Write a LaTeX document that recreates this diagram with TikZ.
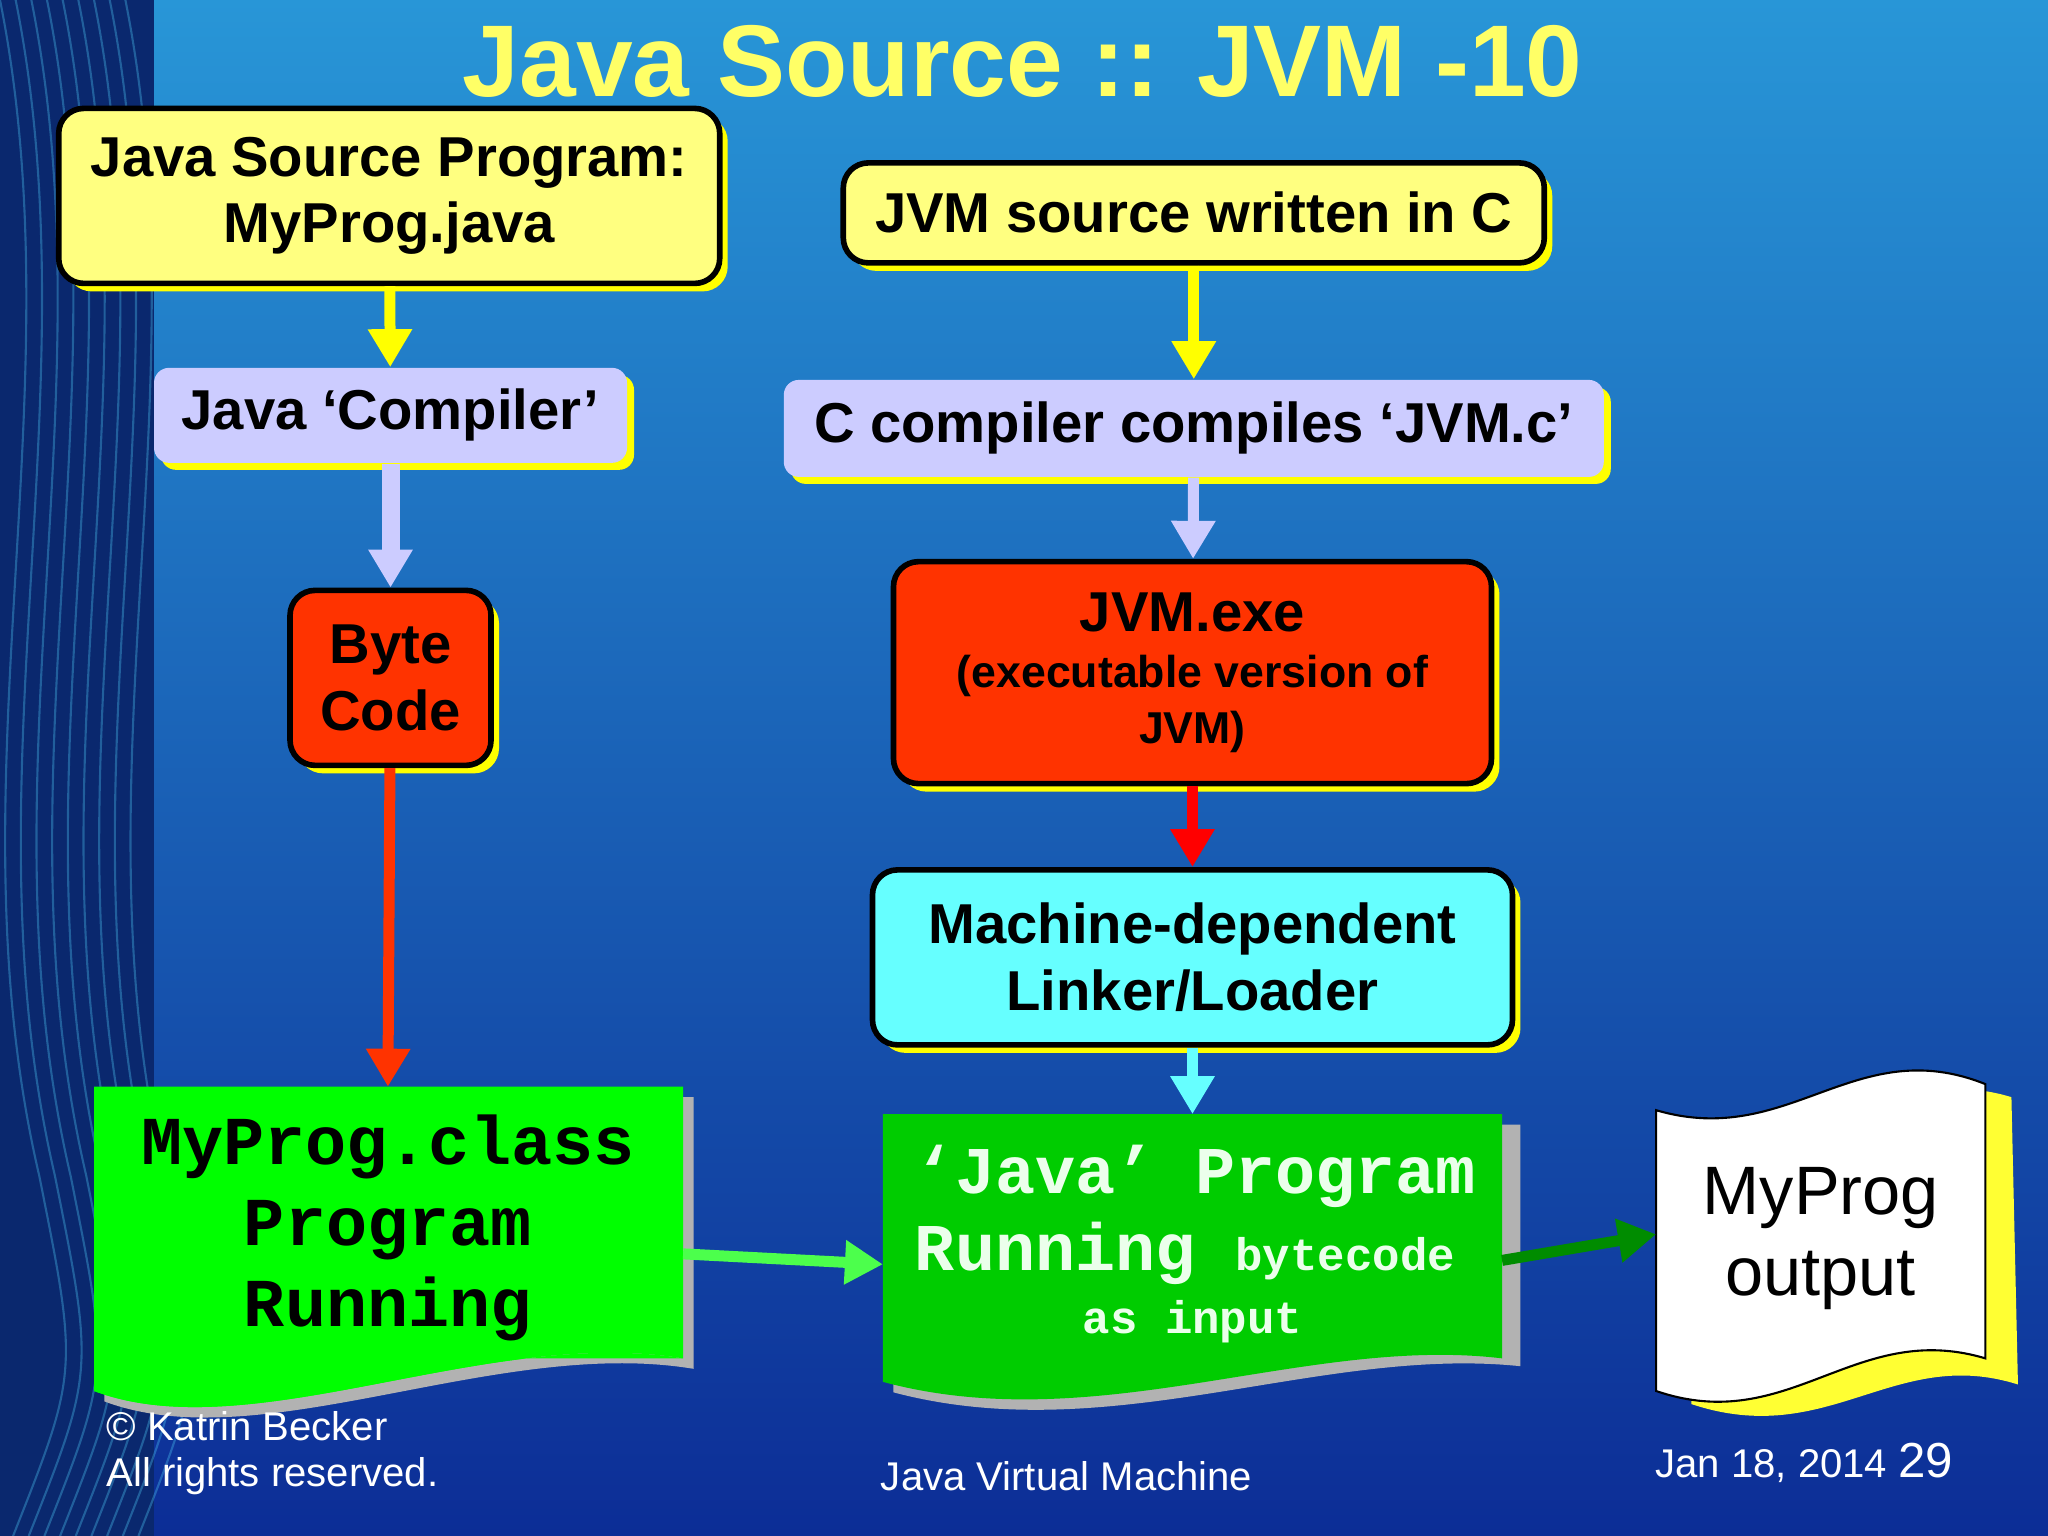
\documentclass[tikz,border=0pt]{standalone}
\usepackage{fontspec}
\setmainfont{Liberation Sans}
\newfontfamily\monofam{Liberation Mono}
\usetikzlibrary{arrows.meta,shadows}
\definecolor{bgtop}{RGB}{40,150,215}
\definecolor{bgbot}{RGB}{12,45,150}
\definecolor{strip}{RGB}{10,40,110}
\definecolor{boxyellow}{RGB}{255,255,128}
\definecolor{boxlav}{RGB}{204,204,255}
\definecolor{boxred}{RGB}{255,51,0}
\definecolor{boxcyan}{RGB}{102,255,255}
\definecolor{docgreen}{RGB}{0,255,0}
\definecolor{docgreen2}{RGB}{0,204,0}
\definecolor{shyellow}{RGB}{255,255,0}
\definecolor{titleyellow}{RGB}{255,255,102}
\begin{document}
\begin{tikzpicture}[x=0.013061cm,y=-0.013061cm,
  box/.style={rectangle, rounded corners=0.25cm, draw=black, line width=1.6pt, align=center,
    font=\bfseries\fontsize{16}{19}\selectfont, inner sep=0pt,
    general shadow={fill=shyellow, shadow xshift=0.08cm, shadow yshift=-0.08cm}},
  flat/.style={rectangle, rounded corners=0.15cm, fill=boxlav, align=center,
    font=\bfseries\fontsize{16}{19}\selectfont, inner sep=0pt,
    general shadow={fill=shyellow, shadow xshift=0.07cm, shadow yshift=-0.07cm}},
  flow/.style={line width=0.11cm, -{Triangle[length=0.38cm,width=0.42cm]}},
  foot/.style={text=white, font=\fontsize{11.4}{14}\selectfont, anchor=west}
]
\useasboundingbox (0,0) rectangle (1568,1176);
% background
\shade[top color=bgtop, bottom color=bgbot] (0,0) rectangle (1568,1176);
\fill[strip] (0,0) rectangle (118,1176);
\foreach \s in {0,12,...,96}{
  \draw[cyan!70!white, opacity=0.35, line width=0.6pt]
    (\s,0) .. controls (\s+60,300) and (\s-40,600) .. (\s+30,900) .. controls (\s+60,1050) .. (\s+10,1176);
}
\node[text=titleyellow, font=\bfseries\fontsize{29}{32}\selectfont] (title) at (783,47) {Java Source :: JVM -10};

% boxes
\node[box, fill=boxyellow, minimum width=6.61cm, minimum height=1.75cm] (src) at (298,150) {Java Source Program:\\MyProg.java};
\node[box, fill=boxyellow, minimum width=7.01cm, minimum height=1.0cm] (jvmsrc) at (914,163) {JVM source written in C};
\node[flat, minimum width=4.73cm, minimum height=0.95cm] (comp) at (299,318) {Java ‘Compiler’};
\node[flat, minimum width=8.2cm, minimum height=0.97cm] (ccomp) at (914,328) {C compiler compiles ‘JVM.c’};
\node[box, fill=boxred, minimum width=2.01cm, minimum height=1.75cm] (byte) at (299,519) {Byte\\Code};
\node[box, fill=boxred, minimum width=5.98cm, minimum height=2.22cm, font=\bfseries\fontsize{16}{16}\selectfont] (jvmexe) at (913,515)
  {JVM.exe\\{\fontsize{12.7}{15}\selectfont (executable version of}\\{\fontsize{12.7}{15}\selectfont JVM)}};
\node[box, fill=boxcyan, minimum width=6.4cm, minimum height=1.75cm] (linker) at (913,733) {Machine-dependent\\Linker/Loader};

% document shapes
\fill[gray!60] (80,840) -- (531,840) -- (531,1048) .. controls (380,1023) and (200,1118) .. (80,1073) -- cycle;
\fill[docgreen] (72,832) -- (523,832) -- (523,1040) .. controls (372,1015) and (192,1110) .. (72,1065) -- cycle;
\node[font=\monofam\bfseries\fontsize{19.5}{23}\selectfont, align=center] (cls) at (297,940) {MyProg.class\\Program\\Running};
\coordinate (clsout) at (523,960);

\fill[gray!60] (684,861) -- (1164,861) -- (1164,1046) .. controls (1010,1030) and (850,1110) .. (684,1066) -- cycle;
\fill[docgreen2] (676,853) -- (1150,853) -- (1150,1040) .. controls (1000,1022) and (840,1102) .. (676,1058) -- cycle;
\node[text=green!8!white, font=\monofam\bfseries\fontsize{19}{22}\selectfont, align=left, anchor=north west, inner sep=0pt] (jp) at (700,876)
  {‘Java’ Program\\Running {\fontsize{13}{16}\selectfont bytecode}};
\node[text=green!8!white, font=\monofam\bfseries\fontsize{13}{16}\selectfont] (asin) at (913,1012) {as input};
\coordinate (jpin) at (676,968);
\coordinate (jptop) at (913,853);
\coordinate (jpout) at (1150,965);

% output scroll
\fill[shyellow!80!white] (1290,870) .. controls (1400,900) and (1440,810) .. (1540,840)
  -- (1545,1060) .. controls (1450,1030) and (1400,1110) .. (1295,1075) -- cycle;
\draw[fill=white, line width=0.6pt] (1268,850) .. controls (1370,880) and (1420,790) .. (1520,830)
  -- (1520,1040) .. controls (1420,1010) and (1370,1100) .. (1268,1065) -- cycle;
\node[font=\fontsize{19.5}{23}\selectfont, align=center] (out) at (1394,948) {MyProg\\output};
\coordinate (outin) at (1268,945);

% connectors
\draw[flow, shyellow] (src) -- (comp);
\draw[flow, boxlav, line width=0.18cm] (comp) -- (byte);
\draw[flow, boxred] (byte) -- (297,832);
\draw[flow, shyellow] (jvmsrc) -- (ccomp);
\draw[flow, boxlav] (ccomp) -- (jvmexe);
\draw[flow, red] (jvmexe) -- (linker);
\draw[flow, boxcyan] (linker) -- (jptop);
\draw[flow, green!70!white] (clsout) -- (jpin);
\draw[flow, green!55!black] (jpout) -- (outin);

% footer
\node[foot] (c1) at (72,1092) {© Katrin Becker};
\node[foot] (c2) at (72,1130) {All rights reserved.};
\node[foot] (f) at (665,1130) {Java Virtual Machine};
\node[foot] (d) at (1258,1120) {Jan 18, 2014 {\fontsize{14}{16}\selectfont 29}};
% doc edge covers the copyright line as in the slide
\fill[docgreen] (72,1040) -- (523,1040) .. controls (372,1015) and (192,1110) .. (72,1065) -- cycle;
\end{tikzpicture}
\end{document}
